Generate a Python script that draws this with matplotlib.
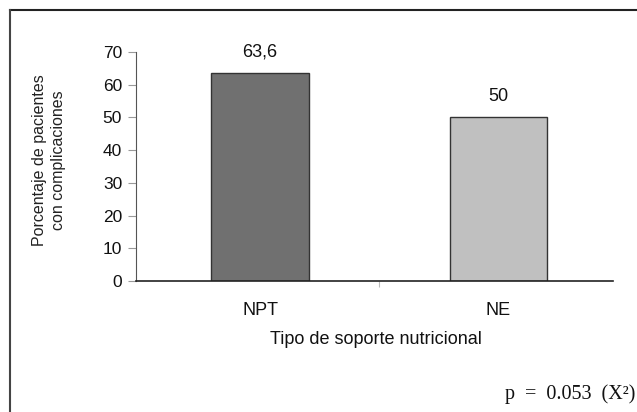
import matplotlib
matplotlib.use("Agg")
import matplotlib.pyplot as plt
from matplotlib.lines import Line2D

categories = ["NPT", "NE"]
values = [63.6, 50]
value_labels = ["63,6", "50"]
bar_colors = ["#707070", "#c0c0c0"]
yticks = [0, 10, 20, 30, 40, 50, 60, 70]

W, H = 637, 412
fig = plt.figure(figsize=(W / 100, H / 100), dpi=100)
fig.patch.set_facecolor("white")

FS = 12.5
ax = fig.add_axes([136 / W, 1 - 281 / H, (613 - 136) / W, (281 - 52) / H])
x = list(range(len(categories)))
ax.bar(x, values, width=0.41, color=bar_colors, edgecolor="#333333", linewidth=1.0)
ax.set_xlim(-0.52, 1.48)
ax.set_ylim(0, 70)
ax.set_yticks(yticks)
ax.set_yticklabels([str(t) for t in yticks], family="Liberation Sans", fontsize=FS, color="#111111")
ax.set_xticks([0.5])
ax.set_xticklabels([""])
ax.tick_params(axis="y", direction="out", length=6, width=0.8, color="#999999", pad=4)
ax.tick_params(axis="x", direction="out", length=4, width=0.8, color="#bbbbbb")
for s in ["top", "right"]:
    ax.spines[s].set_visible(False)
ax.spines["left"].set_color("#555555")
ax.spines["bottom"].set_color("#222222")
ax.spines["bottom"].set_linewidth(1.2)

for xi, v, lab in zip(x, values, value_labels):
    ax.annotate(lab, (xi, v), xytext=(0, 12), textcoords="offset points",
                ha="center", va="baseline", family="Liberation Sans", fontsize=13, color="#111111")

for xi, c in zip(x, categories):
    ax.annotate(c, (xi, 0), xytext=(0, -24.5), textcoords="offset points",
                ha="center", va="baseline", family="Liberation Sans", fontsize=13, color="#111111")

fig.text(376 / W, 1 - 344 / H, "Tipo de soporte nutricional", ha="center", va="baseline",
         family="Liberation Sans", fontsize=13, color="#111111")
fig.text(49 / W, 1 - 160 / H, "Porcentaje de pacientes\ncon complicaciones", ha="center", va="center",
         rotation=90, family="Liberation Sans", fontsize=11.5, color="#222222", linespacing=1.3)
fig.text(635 / W, 1 - 399 / H, "p  =  0.053  (X²)", ha="right", va="baseline",
         family="Liberation Serif", fontsize=14.5, color="#111111")

fig.add_artist(Line2D([9.5 / W, 1.0], [1 - 9.5 / H, 1 - 9.5 / H], color="#222222", linewidth=1.5))
fig.add_artist(Line2D([9.5 / W, 9.5 / W], [1 - 9.5 / H, 0.0], color="#444444", linewidth=1.5))

fig.savefig("out.png", dpi=100, facecolor="white")
